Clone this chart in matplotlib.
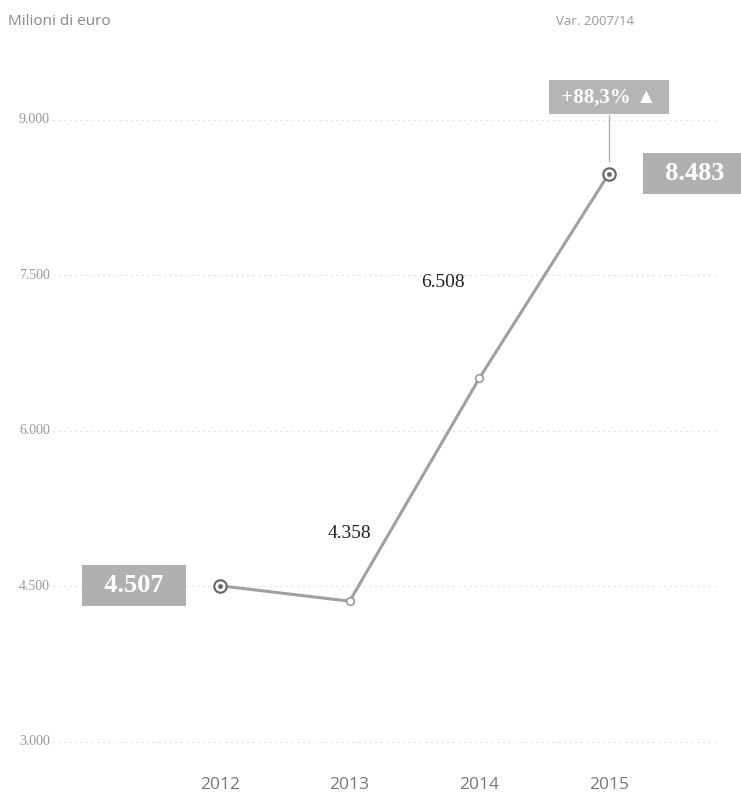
import matplotlib.pyplot as plt
import numpy as np

# dati
anni = [2012, 2013, 2014, 2015]
valori = [4507, 4358, 6508, 8483]
etichette = ['4.507', '4.358', '6.508', '8.483']
tick_y = [3000, 4500, 6000, 7500, 9000]
tick_lab = ['3.000', '4.500', '6.000', '7.500', '9.000']
variazione = '+88,3% \u25B2'

fig = plt.figure(figsize=(7.41, 7.99), dpi=100)
ax = fig.add_axes([0, 0, 1, 1])
ax.set_xlim(2010.304, 2016.018)
ax.set_ylim(2450, 10157)
ax.axis('off')

serif = ['Liberation Serif', 'DejaVu Serif']
sans = ['Open Sans', 'DejaVu Sans']

# griglia e tick
for v, lab in zip(tick_y, tick_lab):
    ax.plot([2010.45, 2015.85], [v, v], color='#e4e4e4', lw=0.8, ls=(0, (2, 3)), zorder=1)
    ax.text(2010.45, v, lab, fontsize=10, color='#9a9a9a', family=serif,
            va='center', ha='left', zorder=2)

# anni
for a in anni:
    ax.text(a, 2585, str(a), fontsize=12.5, color='#777777', family=sans,
            ha='center', va='center')

# linea
ax.plot(anni, valori, color='#a0a0a0', lw=2.2, zorder=3)
ax.scatter(anni[1:3], valori[1:3], s=30, facecolor='white', edgecolor='#999999',
           lw=1.2, zorder=4)
for i in (0, 3):
    ax.scatter(anni[i], valori[i], s=80, facecolor='white', edgecolor='#666666',
               lw=1.5, zorder=4)
    ax.scatter(anni[i], valori[i], s=6, color='#666666', zorder=5)

# etichette intermedie
ax.text(anni[1], valori[1] + 650, etichette[1], fontsize=14, family=serif,
        color='#222222', ha='center', va='center')
ax.text(anni[2] - 0.28, valori[2] + 920, etichette[2], fontsize=14, family=serif,
        color='#222222', ha='center', va='center')

box = dict(boxstyle='square,pad=0.35', fc='#b0b0b0', ec='none')
ax.text(anni[0] - 0.66, valori[0], '  ' + etichette[0] + '  ', fontsize=19, family=serif,
        color='white', fontweight='bold', ha='center', va='center', bbox=box, zorder=6)
ax.text(anni[3] + 0.66, valori[3], '  ' + etichette[3] + '  ', fontsize=19, family=serif,
        color='white', fontweight='bold', ha='center', va='center', bbox=box, zorder=6)

# variazione
ax.plot([anni[3], anni[3]], [valori[3] + 120, 9050], color='#aaaaaa', lw=0.9, zorder=2)
ax.text(anni[3], 9220, ' ' + variazione + ' ', fontsize=15, family=serif + ['DejaVu Sans'],
        color='white', fontweight='bold', ha='center', va='center',
        bbox=dict(boxstyle='square,pad=0.35', fc='#b5b5b5', ec='none'), zorder=6)

# titoli
fig.text(0.011, 0.9725, 'Milioni di euro', fontsize=11, color='#888888', family=sans,
         ha='left', va='center')
fig.text(0.75, 0.9725, 'Var. 2007/14', fontsize=9.5, color='#999999', family=sans,
         ha='left', va='center')

fig.savefig('out.png', dpi=100, facecolor='white')
